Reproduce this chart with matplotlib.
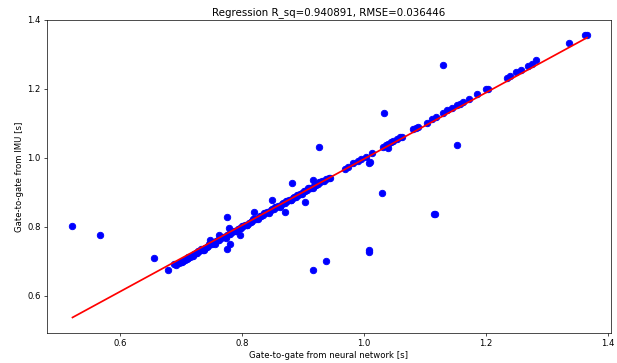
#!/usr/bin/env python3
"""Regresion gate-to-gate: red neuronal vs IMU."""
import numpy as np
import matplotlib
matplotlib.use("Agg")
import matplotlib.pyplot as plt

# --- datos ---
# banda densa a lo largo de la recta
band_x = [0.688, 0.692, 0.697, 0.700, 0.703, 0.706, 0.709, 0.712, 0.715, 0.718,
          0.721, 0.724, 0.727, 0.730, 0.733, 0.736, 0.739, 0.742, 0.745, 0.748,
          0.751, 0.754, 0.757, 0.760, 0.763, 0.766, 0.769, 0.772, 0.775, 0.778,
          0.781, 0.784, 0.787, 0.790, 0.793, 0.796, 0.799, 0.802, 0.805, 0.808,
          0.811, 0.814, 0.817, 0.820, 0.823, 0.826, 0.829, 0.832, 0.835, 0.838,
          0.841, 0.844, 0.847, 0.850, 0.853, 0.856, 0.859, 0.862, 0.865, 0.868,
          0.871, 0.874, 0.877, 0.880, 0.883, 0.886, 0.889, 0.892, 0.895, 0.898,
          0.901, 0.904, 0.907, 0.910, 0.913, 0.916, 0.919, 0.922, 0.925, 0.928,
          0.931, 0.934, 0.938, 0.942,
          0.702, 0.711, 0.719, 0.728, 0.737, 0.746, 0.755, 0.764, 0.773, 0.782,
          0.791, 0.800, 0.809, 0.818, 0.827, 0.836, 0.845, 0.854, 0.863, 0.872,
          0.881, 0.890, 0.899, 0.908, 0.917, 0.926]
band_y = [0.694, 0.690, 0.696, 0.699, 0.700, 0.704, 0.708, 0.709, 0.714, 0.716,
          0.722, 0.725, 0.724, 0.731, 0.735, 0.734, 0.740, 0.743, 0.744, 0.750,
          0.752, 0.753, 0.759, 0.761, 0.762, 0.768, 0.770, 0.771, 0.777, 0.779,
          0.780, 0.786, 0.789, 0.788, 0.795, 0.797, 0.798, 0.804, 0.806, 0.807,
          0.812, 0.815, 0.816, 0.822, 0.824, 0.825, 0.831, 0.833, 0.834, 0.840,
          0.842, 0.843, 0.849, 0.851, 0.852, 0.858, 0.860, 0.861, 0.867, 0.869,
          0.870, 0.876, 0.878, 0.879, 0.885, 0.887, 0.888, 0.894, 0.896, 0.897,
          0.903, 0.905, 0.906, 0.912, 0.914, 0.915, 0.921, 0.923, 0.924, 0.930,
          0.932, 0.934, 0.940, 0.943,
          0.698, 0.714, 0.715, 0.731, 0.733, 0.750, 0.751, 0.768, 0.769, 0.786,
          0.787, 0.804, 0.805, 0.822, 0.823, 0.840, 0.841, 0.858, 0.859, 0.876,
          0.877, 0.894, 0.895, 0.912, 0.913, 0.930]

# puntos sueltos y tramo superior
sparse_x = [0.522, 0.567, 0.655, 0.678, 0.776, 0.776, 0.780, 0.779, 0.762, 0.748,
            0.796, 0.820, 0.850, 0.871, 0.882, 0.903, 0.916, 0.927, 0.916, 0.937,
            0.944, 0.969, 0.974, 0.982, 0.990, 0.996, 1.003, 1.008, 1.010, 1.008,
            1.008, 1.014, 1.029, 1.033, 1.032, 1.036, 1.040, 1.040, 1.044, 1.048,
            1.054, 1.059, 1.062, 1.081, 1.085, 1.089, 1.103, 1.111, 1.115, 1.117,
            1.119, 1.129, 1.130, 1.137, 1.144, 1.152, 1.153, 1.157, 1.163, 1.172,
            1.185, 1.201, 1.204, 1.234, 1.239, 1.250, 1.257, 1.269, 1.275, 1.283,
            1.337, 1.362, 1.366]
sparse_y = [0.803, 0.777, 0.709, 0.675, 0.830, 0.736, 0.750, 0.796, 0.777, 0.762,
            0.777, 0.843, 0.878, 0.843, 0.927, 0.873, 0.936, 1.033, 0.675, 0.702,
            0.941, 0.967, 0.975, 0.985, 0.990, 0.996, 1.004, 0.985, 0.988, 0.733,
            0.726, 1.014, 0.899, 1.130, 1.033, 1.038, 1.041, 1.030, 1.046, 1.050,
            1.056, 1.060, 1.062, 1.083, 1.086, 1.091, 1.102, 1.112, 0.837, 0.837,
            1.120, 1.270, 1.130, 1.139, 1.144, 1.038, 1.154, 1.157, 1.163, 1.170,
            1.186, 1.200, 1.200, 1.231, 1.238, 1.250, 1.255, 1.267, 1.272, 1.284,
            1.334, 1.357, 1.357]

# recta de regresion (leida)
slope = 0.961
intercept = 0.036
r_sq = 0.940891
rmse = 0.036446

x_all = np.array(band_x + sparse_x)
y_all = np.array(band_y + sparse_y)

DPI = 61.7
fig = plt.figure(figsize=(617 / DPI, 363 / DPI), dpi=DPI)
ax = fig.add_axes([0.076, 0.083, 0.914, 0.862])
ax.scatter(x_all, y_all, color="blue", s=57)
xl = np.array([x_all.min(), x_all.max()])
ax.plot(xl, slope * xl + intercept, color="red", linewidth=2)
ax.set_xlim(0.480, 1.405)
ax.set_ylim(0.493, 1.40)
ax.set_xticks([0.6, 0.8, 1.0, 1.2, 1.4])
ax.set_yticks([0.6, 0.8, 1.0, 1.2, 1.4])
ax.set_title(f"Regression R_sq={r_sq:.6f}, RMSE={rmse:.6f}")
ax.set_xlabel("Gate-to-gate from neural network [s]")
ax.set_ylabel("Gate-to-gate from IMU [s]")
plt.savefig("out.png", dpi=DPI, facecolor="white")
plt.close()
